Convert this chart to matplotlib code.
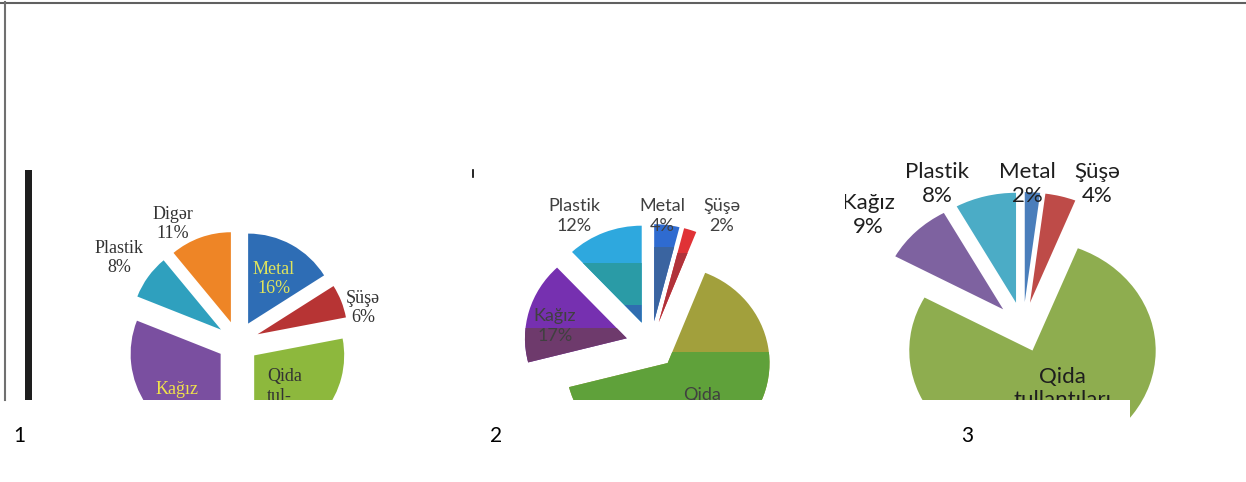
import numpy as np
import matplotlib.pyplot as plt
from matplotlib.patches import Wedge, Rectangle
from matplotlib.lines import Line2D

W, H = 1246, 482

# ---- data (slices clockwise from 12 o'clock) ----
labels_1 = ["Metal", "Şüşə", "Qida\ntul-\nlantıları", "Kağız", "Plastik", "Digər"]
values_1 = [16, 6, 28, 31, 8, 11]

labels_2 = ["Metal", "Şüşə", "Qida\ntullantıları", "Kağız", "Plastik"]
values_2 = [4, 2, 65, 17, 12]

labels_3 = ["Metal", "Şüşə", "Qida\ntullantıları", "Kağız", "Plastik"]
values_3 = [2, 4, 77, 9, 8]

panel_numbers = ["1", "2", "3"]

fig = plt.figure(figsize=(W / 100, H / 100), dpi=100)
fig.patch.set_facecolor("white")


def px_axes(x0, y0, x1, y1):
    return fig.add_axes([x0 / W, 1 - y1 / H, (x1 - x0) / W, (y1 - y0) / H])


def finish(ax, x0, y0, x1, y1, sx):
    ax.set_xlim(x0 / sx, x1 / sx)
    ax.set_ylim(H - y1, H - y0)
    ax.set_aspect("auto")
    ax.axis("off")


# draws a pie centred at pixel (cx, cy), every slice pushed out by offset
def draw_pie(ax, values, colors, cx, cy, r, offset, sx):
    wedges, _ = ax.pie(values, colors=colors, startangle=90, counterclock=False,
                       radius=r, center=(cx / sx, H - cy),
                       wedgeprops=dict(linewidth=0))
    for w in wedges:
        mid = np.deg2rad((w.theta1 + w.theta2) / 2)
        w.set_center((cx / sx + offset * np.cos(mid), H - cy + offset * np.sin(mid)))
        w.set_clip_on(True)   # pie turns clipping off, the crop needs it
    return wedges


# recolour the part of a wedge lying between two pixel rows (gradient bands)
def add_band(ax, wedge, ytop, ybot, color):
    copy = Wedge(wedge.center, wedge.r, wedge.theta1, wedge.theta2,
                 facecolor=color, linewidth=0, zorder=wedge.get_zorder() + 0.1)
    ax.add_patch(copy)
    clip = Rectangle((-1e4, H - ybot), 3e4, ybot - ytop, transform=ax.transData)
    copy.set_clip_path(clip)


def put_label(ax, x, y, s, sx, **kw):
    ax.text(x / sx, H - y, s, ha="center", va="center", clip_on=True, zorder=5, **kw)


# ---------------- chart 1 ----------------
x0, y0, x1, y1, sx = 36, 160, 465, 400, 1.0
ax1 = px_axes(x0, y0, x1, y1)
colors_1 = ["#2E6DB5", "#B73434", "#8DB83D", "#7A4FA0", "#2FA0BE", "#EE8526"]
draw_pie(ax1, values_1, colors_1, 238, 342, 90, 21, sx)
serif = dict(family="Liberation Serif", fontsize=13, linespacing=1.2)
put_label(ax1, 274, 279, f"{labels_1[0]}\n{values_1[0]}%", sx, color="#E0E45C", **serif)
put_label(ax1, 363, 308, f"{labels_1[1]}\n{values_1[1]}%", sx, color="#333333", **serif)
ax1.text(267 / sx, H - 368, f"{labels_1[2]}\n{values_1[2]}%", ha="left", va="top",
         clip_on=True, zorder=5, color="#333333", **serif)
put_label(ax1, 177, 399, f"{labels_1[3]}\n{values_1[3]}%", sx, color="#F0E24A", **serif)
put_label(ax1, 119, 258, f"{labels_1[4]}\n{values_1[4]}%", sx, color="#333333", **serif)
put_label(ax1, 173, 224, f"{labels_1[5]}\n{values_1[5]}%", sx, color="#333333", **serif)
finish(ax1, x0, y0, x1, y1, sx)

# ---------------- chart 2 ----------------
x0, y0, x1, y1, sx = 474, 165, 800, 400, 1.05
ax2 = px_axes(x0, y0, x1, y1)
colors_2 = ["#2F6BD0", "#E03236", "#A2A03C", "#7630B0", "#2EA8DE"]
w2 = draw_pie(ax2, values_2, colors_2, 651, 345, 97, 24, sx)
add_band(ax2, w2[0], 247, y1, "#3A64A0")
add_band(ax2, w2[1], 253, y1, "#B0323A")
add_band(ax2, w2[2], 352, y1, "#5FA13A")
add_band(ax2, w2[3], 328, y1, "#6E3A6C")
add_band(ax2, w2[4], 263, 305, "#2A9BA6")
add_band(ax2, w2[4], 305, y1, "#2F6DB0")
sans2 = dict(family="Lato", fontsize=13, linespacing=1.25, color="#404040")
put_label(ax2, 662, 216, f"{labels_2[0]}\n{values_2[0]}%", sx, **sans2)
put_label(ax2, 722, 216, f"{labels_2[1]}\n{values_2[1]}%", sx, **sans2)
ax2.text(702 / sx, H - 387, f"{labels_2[2]}\n{values_2[2]}%", ha="center", va="top",
         clip_on=True, zorder=5, **sans2)
put_label(ax2, 555, 326, f"{labels_2[3]}\n{values_2[3]}%", sx, **sans2)
put_label(ax2, 574, 216, f"{labels_2[4]}\n{values_2[4]}%", sx, **sans2)
finish(ax2, x0, y0, x1, y1, sx)

# ---------------- chart 3 ----------------
x0, y0, x1, y1, sx = 845, 145, 1175, 430, 1.12
ax3 = px_axes(x0, y0, x1, y1)
colors_3 = ["#4A7EBB", "#BE4B48", "#8EAD4F", "#7E62A0", "#4BACC6"]
draw_pie(ax3, values_3, colors_3, 1023, 327, 110, 25, sx)
sans3 = dict(family="Lato", fontsize=16, linespacing=1.2, color="#1E1E1E")
put_label(ax3, 1027, 184, f"{labels_3[0]}\n{values_3[0]}%", sx, **sans3)
put_label(ax3, 1097, 184, f"{labels_3[1]}\n{values_3[1]}%", sx, **sans3)
ax3.text(1062 / sx, H - 367, f"{labels_3[2]}\n{values_3[2]}%", ha="center", va="top",
         clip_on=True, zorder=5, **sans3)
put_label(ax3, 868, 215, f"{labels_3[3]}\n{values_3[3]}%", sx, **sans3)
put_label(ax3, 937, 184, f"{labels_3[4]}\n{values_3[4]}%", sx, **sans3)
finish(ax3, x0, y0, x1, y1, sx)

# white strip that hides the bottom of chart 3
fig.add_artist(Rectangle((840 / W, 1 - 450 / H), 290 / W, 50 / H,
                         transform=fig.transFigure, facecolor="white", edgecolor="none", zorder=3))

# frame lines, dark bar and tick
fig.add_artist(Line2D([0, 1], [1 - 2.5 / H, 1 - 2.5 / H], transform=fig.transFigure,
                      color="#606060", lw=1.5, zorder=4))
fig.add_artist(Line2D([5 / W, 5 / W], [1 - 2 / H, 1 - 400 / H], transform=fig.transFigure,
                      color="#707070", lw=1.5, zorder=4))
fig.add_artist(Rectangle((25 / W, 1 - 400 / H), 7 / W, 230 / H, transform=fig.transFigure,
                         facecolor="#1E1E1E", edgecolor="none", zorder=4))
fig.add_artist(Line2D([473 / W, 473 / W], [1 - 170 / H, 1 - 177 / H], transform=fig.transFigure,
                      color="black", lw=1.2, zorder=4))

# panel numbers
for xp, num in zip([19, 496, 967], panel_numbers):
    fig.text(xp / W, 1 - 436 / H, num, ha="center", va="center", family="Lato",
             fontsize=15, color="black", zorder=6)

fig.savefig("out.png", dpi=100, facecolor="white")
